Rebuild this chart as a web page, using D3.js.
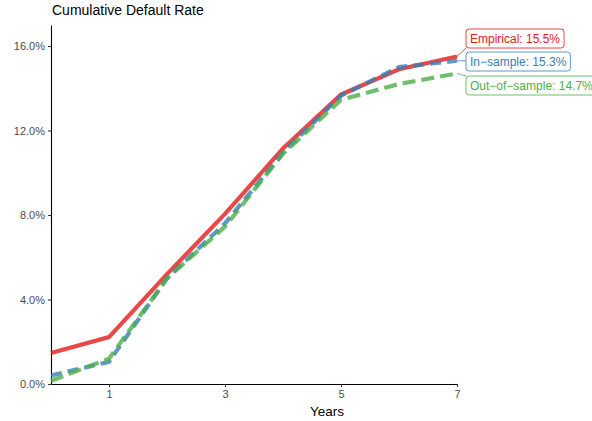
<!DOCTYPE html>
<html>
<head>
<meta charset="utf-8">
<script src="https://cdn.jsdelivr.net/npm/d3@7"></script>
<style>
  body { margin: 0; background: #fff; }
  svg { font-family: "Liberation Sans", Arial, sans-serif; }
</style>
</head>
<body>
<svg id="chart" width="592" height="421"></svg>
<script>
// datos
const years = [0, 1, 2, 3, 4, 5, 6, 7];
const empirical = [1.47, 2.22, 5.2, 8.05, 11.15, 13.7, 14.9, 15.5];
const inSample = [0.4, 1.05, 5.0, 7.6, 10.95, 13.65, 15.0, 15.3];
const outSample = [0.15, 1.2, 5.0, 7.45, 10.9, 13.45, 14.2, 14.7];
const seriesNames = ["Empirical", "In\u2212sample", "Out\u2212of\u2212sample"];
const xTicks = [1, 3, 5, 7];
const yTicks = [0, 4, 8, 12, 16];

const svg = d3.select("#chart");
const left = 51, bottom = 384;

const x = d3.scaleLinear().domain([0, 7]).range([left, 457]);
const y = d3.scaleLinear().domain([0, 17]).range([bottom, bottom - 338 * 17 / 16]);

const series = [
    {name: seriesNames[0], values: empirical, color: "#e41a1c", dash: null},
    {name: seriesNames[1], values: inSample, color: "#377eb8", dash: "11,6"},
    {name: seriesNames[2], values: outSample, color: "#4daf4a", dash: "13,6"}
];

// ejes
const yAxis = svg.append("g")
    .attr("transform", `translate(${left},0)`)
    .call(d3.axisLeft(y).tickValues(yTicks).tickFormat(d => d.toFixed(1) + "%").tickSize(3).tickSizeOuter(0));
const xAxis = svg.append("g")
    .attr("transform", `translate(0,${bottom})`)
    .call(d3.axisBottom(x).tickValues(xTicks).tickFormat(d3.format("d")).tickSize(3).tickSizeOuter(0));

[xAxis, yAxis].forEach(a => {
    a.select(".domain").attr("stroke", "#000").attr("stroke-width", 1.1);
    a.selectAll(".tick line").attr("stroke", "#333").attr("stroke-width", 1.1);
    a.selectAll(".tick text").attr("fill", "#4d4d4d").attr("font-size", "11px")
        .attr("font-family", "Liberation Sans, Arial, sans-serif");
});
yAxis.selectAll(".tick text").attr("x", -6);
xAxis.selectAll(".tick text").attr("y", 6);

// lineas
const line = d3.line().x((d, i) => x(years[i])).y(d => y(d));
series.forEach(s => {
    svg.append("path")
        .datum(s.values)
        .attr("d", line)
        .attr("fill", "none")
        .attr("stroke", s.color)
        .attr("stroke-opacity", 0.8)
        .attr("stroke-width", 4.2)
        .attr("stroke-dasharray", s.dash);
});

// etiquetas tipo ggrepel
const labelPos = [{bx: 466, by: 29}, {bx: 466, by: 52}, {bx: 466, by: 76}];
series.forEach((s, i) => {
    const last = s.values[s.values.length - 1];
    const txt = `${s.name}: ${last.toFixed(1)}%`;
    const g = svg.append("g");
    const t = g.append("text")
        .attr("x", labelPos[i].bx + 4)
        .attr("y", labelPos[i].by + 14)
        .attr("font-size", "12px")
        .attr("fill", s.color)
        .text(txt);
    const w = t.node().getComputedTextLength() + 8;
    const h = 19;
    const px = x(years[years.length - 1]), py = y(last);
    const cy = Math.max(labelPos[i].by, Math.min(labelPos[i].by + h, py));
    g.insert("line", "text")
        .attr("x1", px).attr("y1", py)
        .attr("x2", labelPos[i].bx).attr("y2", cy)
        .attr("stroke", s.color).attr("stroke-width", 0.8);
    g.insert("rect", "text")
        .attr("x", labelPos[i].bx).attr("y", labelPos[i].by)
        .attr("width", w).attr("height", h)
        .attr("rx", 3)
        .attr("fill", "#fff")
        .attr("stroke", s.color).attr("stroke-width", 0.8);
});

// titulos
svg.append("text")
    .attr("x", 52).attr("y", 15)
    .attr("font-size", "14px")
    .attr("fill", "#000")
    .text("Cumulative Default Rate");

svg.append("text")
    .attr("x", 327).attr("y", 416)
    .attr("text-anchor", "middle")
    .attr("font-size", "13.5px")
    .attr("fill", "#000")
    .text("Years");
</script>
</body>
</html>
